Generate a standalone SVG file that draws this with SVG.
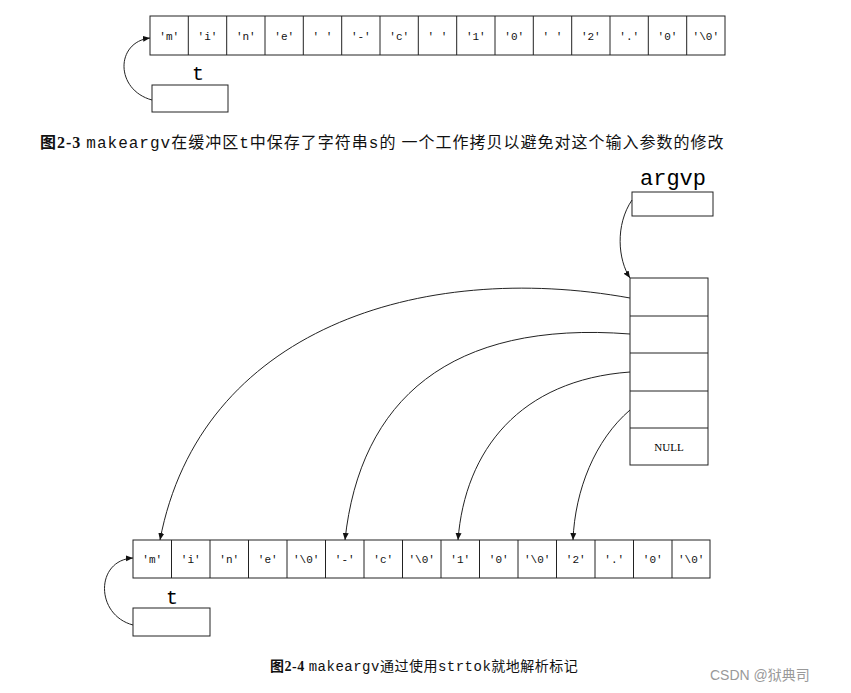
<svg xmlns="http://www.w3.org/2000/svg" width="851" height="693" viewBox="0 0 851 693">
<defs>
<style>
.b{fill:#fff;stroke:#222;stroke-width:1}
.c{font-family:"Liberation Mono",monospace;font-size:11px;fill:#111;text-anchor:middle}
.l{fill:none;stroke:#222;stroke-width:1}
.cap{font-family:"Liberation Serif","Noto Sans CJK SC",serif;font-size:14px;fill:#111}
.m{font-family:"Liberation Mono",monospace}
</style>
<marker id="a" markerWidth="8" markerHeight="8" refX="7" refY="4" orient="auto" markerUnits="userSpaceOnUse"><path d="M0,1 L7,4 L0,7 Z" fill="#111"/></marker>
</defs>
<rect width="851" height="693" fill="#fff"/>
<g id="top-array">
<rect class="b" x="150" y="16" width="575" height="39"/>
<g class="l">
<path d="M188.3,16V55M226.7,16V55M265,16V55M303.3,16V55M341.7,16V55M380,16V55M418.3,16V55M456.7,16V55M495,16V55M533.3,16V55M571.7,16V55M610,16V55M648.3,16V55M686.7,16V55"/>
</g>
<g class="c">
<text x="169.2" y="40">'m'</text><text x="207.5" y="40">'i'</text><text x="245.8" y="40">'n'</text><text x="284.2" y="40">'e'</text><text x="322.5" y="40">'  '</text><text x="360.8" y="40">'-'</text><text x="399.2" y="40">'c'</text><text x="437.5" y="40">'  '</text><text x="475.8" y="40">'1'</text><text x="514.2" y="40">'0'</text><text x="552.5" y="40">'  '</text><text x="590.8" y="40">'2'</text><text x="629.2" y="40">'.'</text><text x="667.5" y="40">'0'</text><text x="705.8" y="40">'\0'</text>
</g>
</g>
<g id="top-t">
<text x="198" y="80" font-family="Liberation Mono,monospace" font-size="20" text-anchor="middle">t</text>
<rect class="b" x="152" y="85" width="76" height="27"/>
</g>
<text class="cap" x="40" y="148" style="font-size:16px;letter-spacing:1px"><tspan font-weight="bold">图2-3</tspan>  <tspan class="m">makeargv</tspan>在缓冲区<tspan class="m">t</tspan>中保存了字符串<tspan class="m">s</tspan>的 一个工作拷贝以避免对这个输入参数的修改</text>
<g id="argvp">
<text x="673" y="185" font-family="Liberation Mono,monospace" font-size="22" text-anchor="middle">argvp</text>
<rect class="b" x="632" y="192" width="81" height="24"/>
</g>
<g id="argv">
<rect class="b" x="630" y="278" width="78" height="187"/>
<path class="l" d="M630,316H708M630,353H708M630,391H708M630,428H708"/>
<text x="669" y="451" font-family="Liberation Serif,serif" font-size="11" text-anchor="middle">NULL</text>
</g>
<g id="bottom-array">
<rect class="b" x="133" y="540" width="577" height="38"/>
<path class="l" d="M171.5,540V578M210,540V578M248.5,540V578M287,540V578M325.5,540V578M364,540V578M402.5,540V578M441,540V578M479.5,540V578M518,540V578M556.5,540V578M595,540V578M633.5,540V578M672,540V578"/>
<g class="c">
<text x="152.2" y="563">'m'</text><text x="190.7" y="563">'i'</text><text x="229.2" y="563">'n'</text><text x="267.7" y="563">'e'</text><text x="306.2" y="563">'\0'</text><text x="344.7" y="563">'-'</text><text x="383.2" y="563">'c'</text><text x="421.7" y="563">'\0'</text><text x="460.2" y="563">'1'</text><text x="498.7" y="563">'0'</text><text x="537.2" y="563">'\0'</text><text x="575.7" y="563">'2'</text><text x="614.2" y="563">'.'</text><text x="652.7" y="563">'0'</text><text x="691.2" y="563">'\0'</text>
</g>
</g>
<g id="bottom-t">
<text x="172" y="604" font-family="Liberation Mono,monospace" font-size="20" text-anchor="middle">t</text>
<rect class="b" x="133" y="608" width="77" height="28"/>
</g>
<text class="cap" x="270" y="671" letter-spacing="0.5"><tspan font-weight="bold">图2-4</tspan>   <tspan class="m">makeargv</tspan>通过使用<tspan class="m">strtok</tspan>就地解析标记</text>
<text x="710" y="680" font-family="Liberation Sans,Noto Sans CJK SC,sans-serif" font-size="14" fill="#999">CSDN @狱典司</text>
<g id="connectors" class="l">
<path d="M152,100 C115,90 115,42 150,38" marker-end="url(#a)"/>
<path d="M133,625 C95,615 95,560 133,558" marker-end="url(#a)"/>
<path d="M632,200 C615,225 618,260 630,278" marker-end="url(#a)"/>
<path d="M630,298 C420,260 200,330 160,540" marker-end="url(#a)"/>
<path d="M630,334 C450,320 360,400 345,540" marker-end="url(#a)"/>
<path d="M630,372 C520,380 465,450 458,540" marker-end="url(#a)"/>
<path d="M630,410 C595,440 575,490 573,540" marker-end="url(#a)"/>
</g>
</svg>
